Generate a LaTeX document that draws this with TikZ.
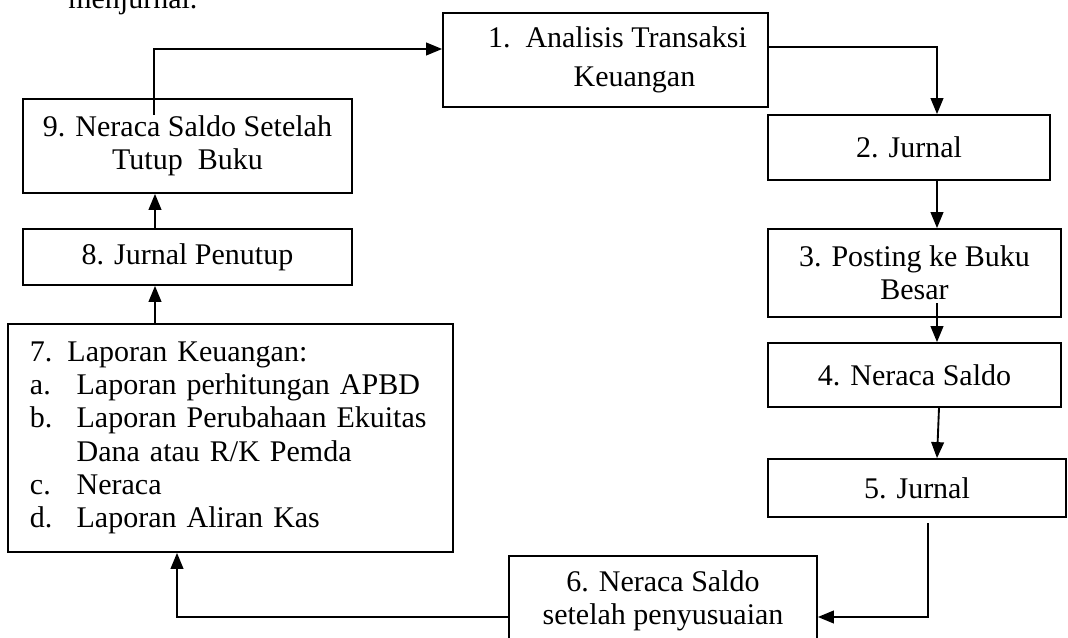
\documentclass[tikz,border=0pt]{standalone}
\usepackage{fontspec}
\setmainfont{Liberation Serif}
\usetikzlibrary{arrows.meta}

\tikzset{
  kotak/.style={draw, line width=1.3pt, inner sep=0pt, align=center, font=\fontsize{22.5}{25}\selectfont},
  panah/.style={-{Triangle[length=12pt,width=9.5pt]}, line width=1.4pt}
}
\newcommand{\butir}[2]{\makebox[35pt][l]{#1}#2}

\begin{document}
\begin{tikzpicture}[x=0.75pt,y=-0.75pt]
\useasboundingbox (0,0) rectangle (1068,638);
\clip (0,0) rectangle (1068,638);

\node[anchor=base west, inner sep=0pt, font=\fontsize{22.5}{25}\selectfont] (teks) at (68,9) {menjurnal.};

% kotak siklus
\node[kotak, minimum width=243.75pt, minimum height=70.5pt] (n1) at (605.5,60) {\hspace*{18pt}1.\ \ Analisis Transaksi\\[4.5pt]\hspace*{43.5pt}Keuangan};
\node[kotak, minimum width=211.5pt, minimum height=48.75pt] (n2) at (909,147.5) {2. Jurnal};
\node[kotak, minimum width=219.75pt, minimum height=66pt] (n3) at (914.5,273) {3. Posting ke Buku\\Besar};
\node[kotak, minimum width=219.75pt, minimum height=48pt] (n4) at (914.5,375) {4. Neraca Saldo};
\node[kotak, minimum width=223.5pt, minimum height=43.5pt] (n5) at (917,488) {5. Jurnal};
\node[kotak, minimum width=231pt, minimum height=66.75pt] (n6) at (663,600.5) {6. Neraca Saldo\\setelah penyusuaian};
\node[kotak, align=left, text width=300.75pt, inner xsep=16.5pt, minimum height=171pt] (n7) at (230.5,438) {7. Laporan Keuangan:\\
\butir{a.}{Laporan perhitungan APBD}\\
\butir{b.}{Laporan Perubahaan Ekuitas}\\
\butir{}{Dana atau R/K Pemda}\\
\butir{c.}{Neraca}\\
\butir{d.}{Laporan Aliran Kas}};
\node[kotak, minimum width=246.75pt, minimum height=42pt] (n8) at (187.5,257) {8. Jurnal Penutup};
\node[kotak, minimum width=246.75pt, minimum height=70.5pt] (n9) at (187.5,146) {9. Neraca Saldo Setelah\\Tutup\ \ Buku};

% panah
\coordinate (a9) at (154,115);
\coordinate (a3) at (937,303);
\coordinate (a5) at (928,523);
\draw[panah] (a9) |- (n1.west |- 0,49);
\draw[panah] (n1.east |- 0,47) -| (937,0 |- n2.north);
\draw[panah] (937,0 |- n2.south) -- (937,0 |- n3.north);
\draw[panah] (a3) -- (937,0 |- n4.north);
\draw[panah] (939,0 |- n4.south) -- (937,0 |- n5.north);
\draw[panah] (a5) |- (n6.east |- 0,617);
\draw[panah] (n6.west |- 0,617) -| (177,0 |- n7.south);
\draw[panah] (155,0 |- n7.north) -- (155,0 |- n8.south);
\draw[panah] (155,0 |- n8.north) -- (155,0 |- n9.south);
\end{tikzpicture}
\end{document}
